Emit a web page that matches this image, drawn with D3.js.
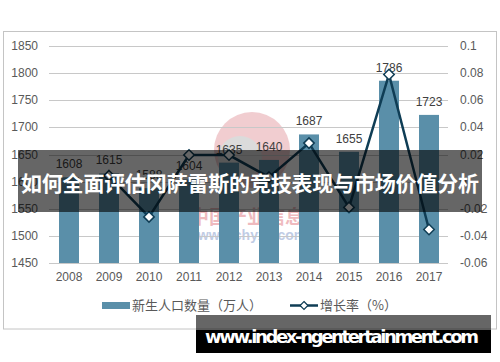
<!DOCTYPE html>
<html>
<head>
<meta charset="utf-8">
<script src="https://cdn.jsdelivr.net/npm/d3@7"></script>
<style>
  body { margin: 0; background: #fff; }
  svg { display: block; font-family: "Liberation Sans", Arial, sans-serif; }
</style>
</head>
<body>
<div class="chart"></div>
<script>
// data
var years = ["2008","2009","2010","2011","2012","2013","2014","2015","2016","2017"]
var births = [1608, 1615, 1588, 1604, 1635, 1640, 1687, 1655, 1786, 1723]
var growth = [null, 0.0044, -0.026, 0.0196, 0.0196, 0.0033, 0.0284, -0.019, 0.0790, -0.0353]
var leftTicks = [1450, 1500, 1550, 1600, 1650, 1700, 1750, 1800, 1850]
var rightTicks = [-0.06, -0.04, -0.02, 0, 0.02, 0.04, 0.06, 0.08, 0.1]
var rightTickLabels = ["-0.06", "-0.04", "-0.02", "0", "0.02", "0.04", "0.06", "0.08", "0.1"]
var legendNames = ["新生人口数量（万人）", "增长率（%）"]
var title = "如何全面评估冈萨雷斯的竞技表现与市场价值分析"
var site = "www.index-ngentertainment.com"

var width = 500, height = 362
var barColor = "#5a8fa9", lineColor = "#0f3d55", textColor = "#595959"

var svg = d3.select(".chart").append("svg")
  .attr("width", width).attr("height", height)

// outer frame
svg.append("rect")
  .attr("x", 3.5).attr("y", 31.5).attr("width", 493).attr("height", 297.5)
  .attr("fill", "none").attr("stroke", "#c4c4c4")

var x = d3.scaleBand().domain(years).range([49, 449]).paddingInner(0.5).paddingOuter(0.25)
var yL = d3.scaleLinear().domain([1450, 1850]).range([263, 46])
var yR = d3.scaleLinear().domain([-0.06, 0.1]).range([263, 46])

// faint source watermark behind the plot
var wm = svg.append("g").attr("opacity", 0.35)
wm.append("circle").attr("cx", 252).attr("cy", 150).attr("r", 38).attr("fill", "#d9727c")
wm.append("circle").attr("cx", 240).attr("cy", 158).attr("r", 22).attr("fill", "#9a9a9a")
wm.append("text").attr("x", 247).attr("y", 224).attr("text-anchor", "middle")
  .attr("font-family", "Noto Sans CJK SC").attr("font-weight", "bold").attr("font-size", 19)
  .attr("fill", "#d23b47").text("中国产业信息")
wm.append("text").attr("x", 252).attr("y", 240).attr("text-anchor", "middle")
  .attr("font-weight", "bold").attr("font-size", 14)
  .attr("fill", "#4d6fb5").text("www.chyxx.com")

// gridlines
svg.append("g").selectAll("line").data(leftTicks).enter().append("line")
  .attr("x1", 49).attr("x2", 448)
  .attr("y1", function(d) { return Math.round(yL(d)) + 0.5 })
  .attr("y2", function(d) { return Math.round(yL(d)) + 0.5 })
  .attr("stroke", "#c8c8c8").attr("stroke-width", 1)

// left axis labels
svg.append("g").selectAll("text").data(leftTicks).enter().append("text")
  .attr("x", 38).attr("y", function(d) { return yL(d) + 4 })
  .attr("text-anchor", "end").attr("font-size", 12).attr("fill", textColor)
  .text(function(d) { return d })

// right axis labels
svg.append("g").selectAll("text").data(rightTicks).enter().append("text")
  .attr("x", 460).attr("y", function(d) { return yR(d) + 4 })
  .attr("font-size", 12).attr("fill", textColor)
  .text(function(d, i) { return rightTickLabels[i] })

// bars
svg.append("g").selectAll("rect").data(births).enter().append("rect")
  .attr("x", function(d, i) { return x(years[i]) })
  .attr("width", x.bandwidth())
  .attr("y", function(d) { return yL(d) })
  .attr("height", function(d) { return yL(1450) - yL(d) })
  .attr("fill", barColor)

// bar value labels
svg.append("g").selectAll("text").data(births).enter().append("text")
  .attr("x", function(d, i) { return x(years[i]) + x.bandwidth() / 2 })
  .attr("y", function(d) { return yL(d) - 9 })
  .attr("text-anchor", "middle").attr("font-size", 12).attr("fill", "#404040")
  .text(function(d) { return d })

// growth line
var pts = growth.map(function(v, i) { return { year: years[i], v: v } }).filter(function(d) { return d.v !== null })
var line = d3.line()
  .x(function(d) { return x(d.year) + x.bandwidth() / 2 })
  .y(function(d) { return yR(d.v) })
svg.append("path").datum(pts)
  .attr("d", line).attr("fill", "none")
  .attr("stroke", lineColor).attr("stroke-width", 2.5)

svg.append("g").selectAll("path").data(pts).enter().append("path")
  .attr("d", d3.symbol().type(d3.symbolDiamond2).size(70))
  .attr("transform", function(d) { return "translate(" + (x(d.year) + x.bandwidth() / 2) + "," + yR(d.v) + ")" })
  .attr("fill", "#fff").attr("stroke", lineColor).attr("stroke-width", 1.5)

// x labels
svg.append("g").selectAll("text").data(years).enter().append("text")
  .attr("x", function(d) { return x(d) + x.bandwidth() / 2 })
  .attr("y", 281).attr("text-anchor", "middle").attr("font-size", 12).attr("fill", textColor)
  .text(function(d) { return d })

// legend
var lg = svg.append("g").attr("font-family", "Noto Sans CJK SC").attr("font-size", 13).attr("fill", textColor)
lg.append("rect").attr("x", 102).attr("y", 302).attr("width", 28).attr("height", 7).attr("fill", barColor)
lg.append("text").attr("x", 132).attr("y", 310).text(legendNames[0])
lg.append("line").attr("x1", 290).attr("x2", 318).attr("y1", 305.5).attr("y2", 305.5)
  .attr("stroke", lineColor).attr("stroke-width", 2.5)
lg.append("path").attr("d", d3.symbol().type(d3.symbolDiamond2).size(40))
  .attr("transform", "translate(304,305.5)")
  .attr("fill", "#fff").attr("stroke", lineColor).attr("stroke-width", 1.2)
lg.append("text").attr("x", 320).attr("y", 310).text(legendNames[1])

// title band
svg.append("rect").attr("x", 18).attr("y", 150).attr("width", 464).attr("height", 62)
  .attr("fill", "rgba(0,0,0,0.6)")
svg.append("text").attr("x", 250).attr("y", 191).attr("text-anchor", "middle")
  .attr("font-family", "Noto Sans CJK SC").attr("font-weight", "bold").attr("font-size", 21)
  .attr("fill", "#fff").attr("textLength", 458).text(title)

// site band
svg.append("rect").attr("x", 196).attr("y", 315).attr("width", 295).attr("height", 38)
  .attr("fill", "rgba(0,0,0,0.6)")
svg.append("rect").attr("x", 196).attr("y", 330).attr("width", 295).attr("height", 23)
  .attr("fill", "#000")
svg.append("text").attr("x", 205).attr("y", 343)
  .attr("font-family", "DejaVu Sans").attr("font-weight", "bold").attr("font-size", 18)
  .attr("fill", "#fff").attr("textLength", 274).text(site)
</script>
</body>
</html>
